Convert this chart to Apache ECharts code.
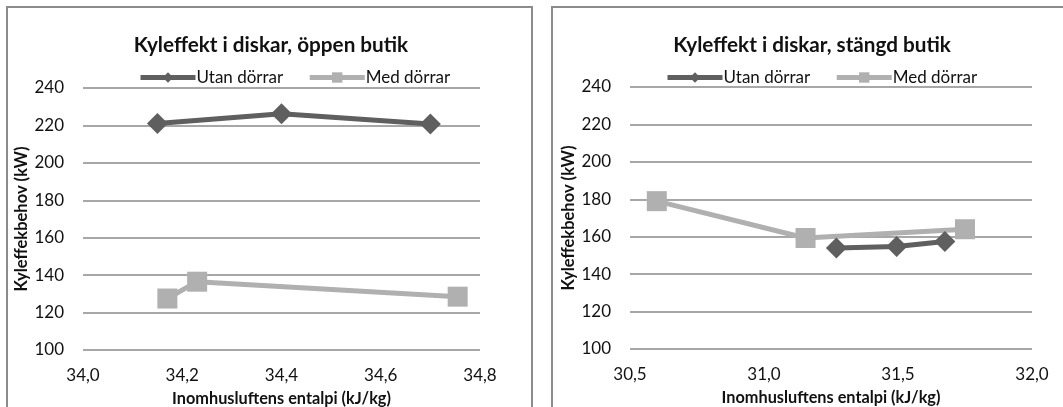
<!DOCTYPE html>
<html>
<head>
<meta charset="utf-8">
<script src="https://cdn.jsdelivr.net/npm/echarts@6/dist/echarts.min.js"></script>
<style>
  html, body { margin: 0; padding: 0; background: #ffffff; }
  #chart { width: 1063px; height: 407px; }
</style>
</head>
<body>
<div id="chart"></div>
<script>
// Kyleffekt i diskar – öppen och stängd butik
const seriesNames = ['Utan dörrar', 'Med dörrar'];

// Öppen butik
const openUtanX = [34.15, 34.40, 34.70];
const openUtanY = [221, 226.3, 220.7];
const openMedX = [34.17, 34.23, 34.755];
const openMedY = [127.5, 136.5, 128.5];

// Stängd butik
const closedUtanX = [31.27, 31.495, 31.675];
const closedUtanY = [154.0, 154.8, 157.5];
const closedMedX = [30.60, 31.155, 31.75];
const closedMedY = [179.0, 159.3, 164.0];

// Axis settings
const yMin = 100, yMax = 240, yStep = 20;
const openXMin = 34.0, openXMax = 34.8, openXStep = 0.2;
const closedXMin = 30.5, closedXMax = 32.0, closedXStep = 0.5;

const titles = ['Kyleffekt i diskar, öppen butik', 'Kyleffekt i diskar, stängd butik'];
const yName = 'Kyleffekbehov (kW)';
const xName = 'Inomhusluftens entalpi (kJ/kg)';

const DARK = '#5f5f5f';
const LIGHT = '#b0b0b0';
const GRID = '#8a8a8a';
const TEXT = '#111111';
const FONT = 'Lato, "Open Sans", sans-serif';

function pairs(xs, ys) { return xs.map((x, i) => [x, ys[i]]); }

function xAxis(idx, min, max, step) {
  return {
    type: 'value', gridIndex: idx, min: min, max: max, interval: step,
    axisLine: { show: false }, axisTick: { show: false }, splitLine: { show: false },
    axisLabel: {
      color: TEXT, fontSize: 17, fontFamily: FONT, margin: 17,
      formatter: v => v.toFixed(1).replace('.', ',')
    },
    name: xName, nameLocation: 'middle', nameGap: 41,
    nameTextStyle: { color: TEXT, fontSize: 16.3, fontWeight: 'bold', fontFamily: FONT }
  };
}
function yAxis(idx) {
  return {
    type: 'value', gridIndex: idx, min: yMin, max: yMax, interval: yStep,
    axisLine: { show: false }, axisTick: { show: false },
    splitLine: { lineStyle: { color: GRID, width: 1.5 } },
    axisLabel: { color: TEXT, fontSize: 17, fontFamily: FONT, margin: 19 },
    name: yName, nameLocation: 'middle', nameGap: 52, nameRotate: 90,
    nameTextStyle: { color: TEXT, fontSize: 16.5, fontWeight: 'bold', fontFamily: FONT }
  };
}
function lineSeries(name, idx, data, dark) {
  return {
    name: name, type: 'line', xAxisIndex: idx, yAxisIndex: idx, data: data,
    symbol: dark ? 'diamond' : 'rect',
    symbolSize: dark ? [21, 21] : 20,
    showAllSymbol: true, animation: false,
    lineStyle: { color: dark ? DARK : LIGHT, width: 5 },
    itemStyle: { color: dark ? DARK : LIGHT },
    emphasis: { disabled: true }
  };
}
function legend(left) {
  return {
    left: left, top: 64, itemWidth: 55, itemHeight: 13, itemGap: 24,
    data: seriesNames,
    lineStyle: { width: 5 },
    textStyle: { color: TEXT, fontSize: 17, fontFamily: FONT, padding: [0, 0, 0, -4] }
  };
}

const chart = echarts.init(document.getElementById('chart'), null, { renderer: 'canvas' });
chart.setOption({
  animation: false,
  backgroundColor: '#ffffff',
  title: [
    { text: titles[0], left: 266, top: 30, textAlign: 'center',
      textStyle: { fontSize: 20.7, fontWeight: 'bold', color: TEXT, fontFamily: FONT } },
    { text: titles[1], left: 807, top: 30, textAlign: 'center',
      textStyle: { fontSize: 20.7, fontWeight: 'bold', color: TEXT, fontFamily: FONT } }
  ],
  legend: [
    Object.assign(legend(133), { id: 'l0' }),
    Object.assign(legend(660), { id: 'l1' })
  ],
  grid: [
    { left: 83, top: 88, width: 397, height: 262, containLabel: false, outerBoundsMode: 'none' },
    { left: 630, top: 87, width: 402, height: 262, containLabel: false, outerBoundsMode: 'none' }
  ],
  xAxis: [xAxis(0, openXMin, openXMax, openXStep), xAxis(1, closedXMin, closedXMax, closedXStep)],
  yAxis: [yAxis(0), yAxis(1)],
  series: [
    lineSeries(seriesNames[0], 0, pairs(openUtanX, openUtanY), true),
    lineSeries(seriesNames[1], 0, pairs(openMedX, openMedY), false),
    lineSeries(seriesNames[0], 1, pairs(closedUtanX, closedUtanY), true),
    lineSeries(seriesNames[1], 1, pairs(closedMedX, closedMedY), false)
  ],
  graphic: [
    { type: 'rect', shape: { x: 7, y: 7, width: 525, height: 430 },
      style: { fill: null, stroke: '#8c8c8c', lineWidth: 2 }, silent: true },
    { type: 'rect', shape: { x: 552, y: 7, width: 530, height: 430 },
      style: { fill: null, stroke: '#8c8c8c', lineWidth: 2 }, silent: true }
  ]
});
</script>
</body>
</html>
